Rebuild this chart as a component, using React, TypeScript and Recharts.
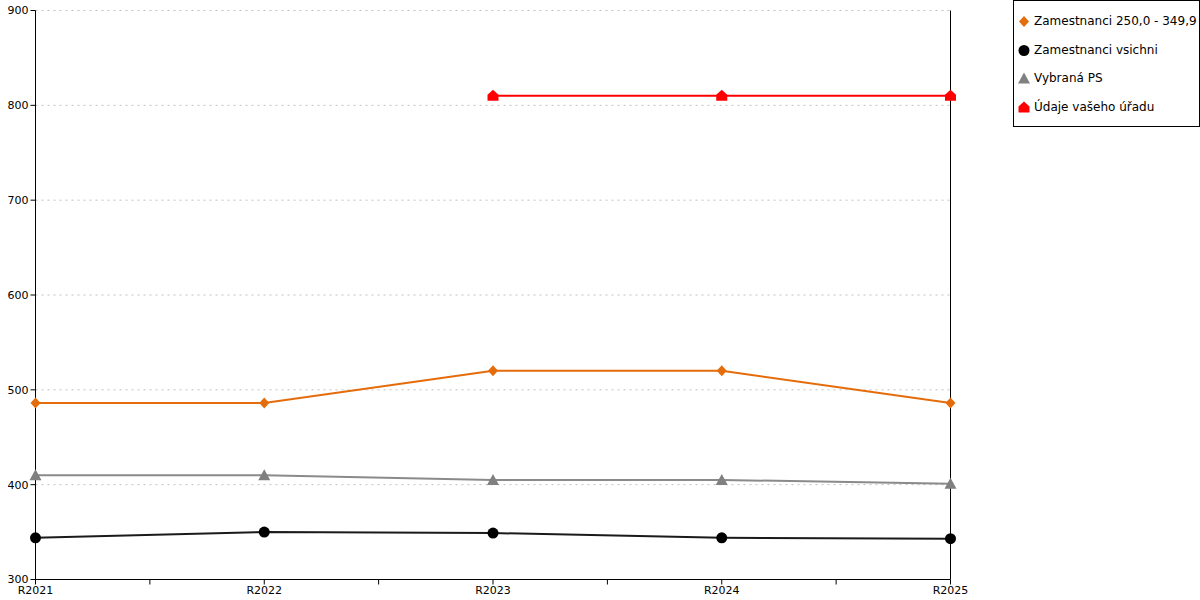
import {
  LineChart,
  Line,
  CartesianGrid,
  XAxis,
  YAxis,
  ReferenceLine,
} from "recharts";

const years = ["R2021", "R2022", "R2023", "R2024", "R2025"];
const zam250 = [486, 486, 520, 520, 486];
const zamVsichni = [344, 350, 349, 344, 343];
const vybranaPS = [410, 410, 405, 405, 401];
const vasUrad = [null, null, 810, 810, 810];
const yTicks = [300, 400, 500, 600, 700, 800, 900];

const ORANGE = "#E46C0A";
const BLACK = "#000000";
const GRAY = "#808080";
const RED = "#FF0000";

const data = years.map((y, i) => ({
  x: i,
  year: y,
  zam250: zam250[i],
  zamVsichni: zamVsichni[i],
  vybranaPS: vybranaPS[i],
  vasUrad: vasUrad[i],
}));

const xTicks = [0, 0.5, 1, 1.5, 2, 2.5, 3, 3.5, 4];

const Diamond = (props: any) => {
  const { cx, cy, index } = props;
  if (cx == null || cy == null) return <g key={index} />;
  return (
    <path
      key={index}
      d={`M${cx},${cy - 5.5} L${cx + 5},${cy} L${cx},${cy + 5.5} L${cx - 5},${cy} Z`}
      fill={ORANGE}
    />
  );
};

const Circle = (props: any) => {
  const { cx, cy, index } = props;
  if (cx == null || cy == null) return <g key={index} />;
  return <circle key={index} cx={cx} cy={cy} r={5.5} fill={BLACK} />;
};

const Triangle = (props: any) => {
  const { cx, cy, index } = props;
  if (cx == null || cy == null) return <g key={index} />;
  return (
    <path
      key={index}
      d={`M${cx},${cy - 6} L${cx + 6},${cy + 5} L${cx - 6},${cy + 5} Z`}
      fill={GRAY}
    />
  );
};

const House = (props: any) => {
  const { cx, cy, index } = props;
  if (cx == null || cy == null) return <g key={index} />;
  return (
    <path
      key={index}
      d={`M${cx},${cy - 6} L${cx + 5.5},${cy - 1} L${cx + 5.5},${cy + 5} L${cx - 5.5},${cy + 5} L${cx - 5.5},${cy - 1} Z`}
      fill={RED}
    />
  );
};

const legendItems = [
  { label: "Zamestnanci 250,0 - 349,9", Icon: Diamond },
  { label: "Zamestnanci vsichni", Icon: Circle },
  { label: "Vybraná PS", Icon: Triangle },
  { label: "Údaje vašeho úřadu", Icon: House },
];

const ChartLegend = () => (
  <div
    style={{
      position: "absolute",
      left: 1013,
      top: 0,
      width: 185,
      height: 125,
      border: "1px solid #000",
      background: "#fff",
      fontFamily: "DejaVu Sans",
      fontSize: 12,
      color: "#000",
    }}
  >
    {legendItems.map(({ label, Icon }, i) => (
      <div
        key={label}
        style={{
          position: "absolute",
          left: 3,
          top: 11 + i * 28.7,
          height: 18,
          display: "flex",
          alignItems: "center",
          whiteSpace: "nowrap",
        }}
      >
        <svg width={14} height={14} style={{ marginRight: 3 }}>
          <Icon cx={7} cy={7.5} index={0} />
        </svg>
        {label}
      </div>
    ))}
  </div>
);

export default function App() {
  return (
    <div
      style={{
        position: "absolute",
        left: 0,
        top: 0,
        width: 1200,
        height: 600,
        background: "#fff",
      }}
    >
      <LineChart
        width={1200}
        height={600}
        data={data}
        margin={{ top: 10.5, right: 249.5, bottom: 0, left: 0 }}
      >
        <CartesianGrid
          vertical={false}
          stroke="#c0c0c0"
          strokeDasharray="2 4"
          yAxisId="left"
        />
        <XAxis
          dataKey="x"
          type="number"
          domain={[0, 4]}
          ticks={xTicks}
          interval={0}
          tickFormatter={(v: number) => (Number.isInteger(v) ? years[v] : "")}
          height={20.5}
          stroke="#000"
          tickSize={5}
          tick={{ fill: "#000", fontSize: 11, fontFamily: "DejaVu Sans" }}
        />
        <YAxis
          yAxisId="left"
          domain={[300, 900]}
          ticks={yTicks}
          width={35.5}
          stroke="#000"
          tickSize={5}
          interval={0}
          tick={{ fill: "#000", fontSize: 11, fontFamily: "DejaVu Sans" }}
        />
        <ReferenceLine yAxisId="left" x={4} stroke="#000" strokeWidth={1} />
        <Line
          yAxisId="left"
          dataKey="vasUrad"
          stroke={RED}
          strokeWidth={2}
          dot={House}
          isAnimationActive={false}
        />
        <Line
          yAxisId="left"
          dataKey="zam250"
          stroke={ORANGE}
          strokeWidth={2}
          dot={Diamond}
          isAnimationActive={false}
        />
        <Line
          yAxisId="left"
          dataKey="vybranaPS"
          stroke="#8a8a8a"
          strokeWidth={2}
          dot={Triangle}
          isAnimationActive={false}
        />
        <Line
          yAxisId="left"
          dataKey="zamVsichni"
          stroke="#1a1a1a"
          strokeWidth={2}
          dot={Circle}
          isAnimationActive={false}
        />
      </LineChart>
      <ChartLegend />
    </div>
  );
}
